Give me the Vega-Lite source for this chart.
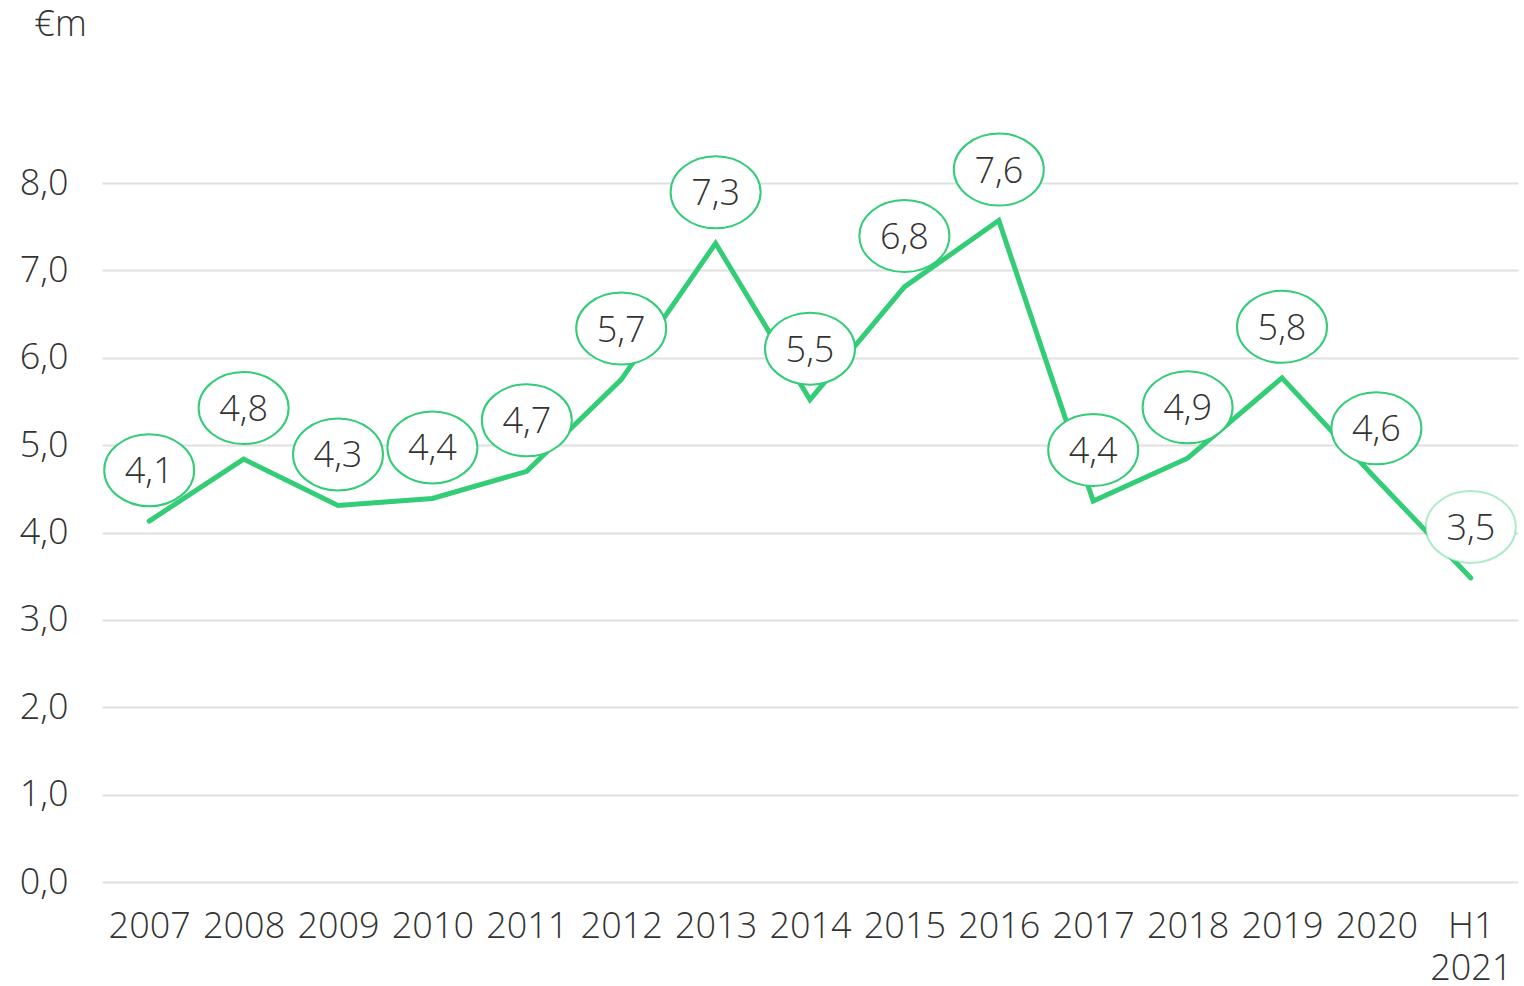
{
  "$schema": "https://vega.github.io/schema/vega-lite/v6.json",
  "autosize": "none",
  "width": 1416,
  "height": 699,
  "padding": {"left": 102, "top": 183, "right": 6, "bottom": 104},
  "background": "white",
  "config": {
    "view": {"stroke": null},
    "font": "Open Sans",
    "axis": {"labelFont": "Open Sans", "titleFont": "Open Sans", "labelFontWeight": 350}
  },
  "data": {
    "values": [
      {"year": "2007", "value": 4.13, "label": "4,1"},
      {"year": "2008", "value": 4.84, "label": "4,8"},
      {"year": "2009", "value": 4.31, "label": "4,3"},
      {"year": "2010", "value": 4.39, "label": "4,4"},
      {"year": "2011", "value": 4.70, "label": "4,7"},
      {"year": "2012", "value": 5.75, "label": "5,7"},
      {"year": "2013", "value": 7.31, "label": "7,3"},
      {"year": "2014", "value": 5.52, "label": "5,5"},
      {"year": "2015", "value": 6.81, "label": "6,8"},
      {"year": "2016", "value": 7.57, "label": "7,6"},
      {"year": "2017", "value": 4.36, "label": "4,4"},
      {"year": "2018", "value": 4.85, "label": "4,9"},
      {"year": "2019", "value": 5.77, "label": "5,8"},
      {"year": "2020", "value": 4.61, "label": "4,6"},
      {"year": "H1 2021", "value": 3.48, "label": "3,5"}
    ]
  },
  "encoding": {
    "x": {
      "field": "year",
      "type": "nominal",
      "sort": null,
      "scale": {"paddingInner": 0, "paddingOuter": 0},
      "axis": {
        "title": null,
        "labelAngle": 0,
        "labelFontSize": 36,
        "labelColor": "#333333",
        "labelPadding": 27,
        "labelLineHeight": 42,
        "labelExpr": "datum.label == 'H1 2021' ? ['H1', '2021'] : datum.label",
        "ticks": false,
        "domain": false,
        "grid": false
      }
    },
    "y": {
      "field": "value",
      "type": "quantitative",
      "scale": {"domain": [0, 8], "nice": false},
      "axis": {
        "title": "€m",
        "titleAngle": 0,
        "titleX": -42,
        "titleY": -148,
        "titleAlign": "center",
        "titleBaseline": "alphabetic",
        "titleFontSize": 36,
        "titleFontWeight": 350,
        "titleColor": "#333333",
        "values": [0, 1, 2, 3, 4, 5, 6, 7, 8],
        "labelExpr": "replace(format(datum.value, '.1f'), '.', ',')",
        "labelFontSize": 36,
        "labelColor": "#333333",
        "labelPadding": 34,
        "ticks": false,
        "domain": false,
        "grid": true,
        "gridColor": "#e0e0e0",
        "gridWidth": 2
      }
    }
  },
  "layer": [
    {
      "mark": {"type": "line", "color": "#33cc77", "strokeWidth": 5, "strokeCap": "round", "strokeJoin": "miter"}
    },
    {
      "mark": {
        "type": "point",
        "shape": "M -1.25 0 A 1.25 1 0 1 0 1.25 0 A 1.25 1 0 1 0 -1.25 0 Z",
        "size": 5184,
        "filled": false,
        "fill": "white",
        "fillOpacity": 1,
        "stroke": "#33cc77",
        "strokeWidth": 2,
        "yOffset": -51
      },
      "encoding": {
        "strokeOpacity": {
          "condition": {"test": "datum.year == 'H1 2021'", "value": 0.4},
          "value": 1
        }
      }
    },
    {
      "mark": {
        "type": "text",
        "fontSize": 36,
        "fontWeight": 350,
        "color": "#333333",
        "align": "center",
        "baseline": "middle",
        "yOffset": -49
      },
      "encoding": {"text": {"field": "label"}}
    }
  ]
}
